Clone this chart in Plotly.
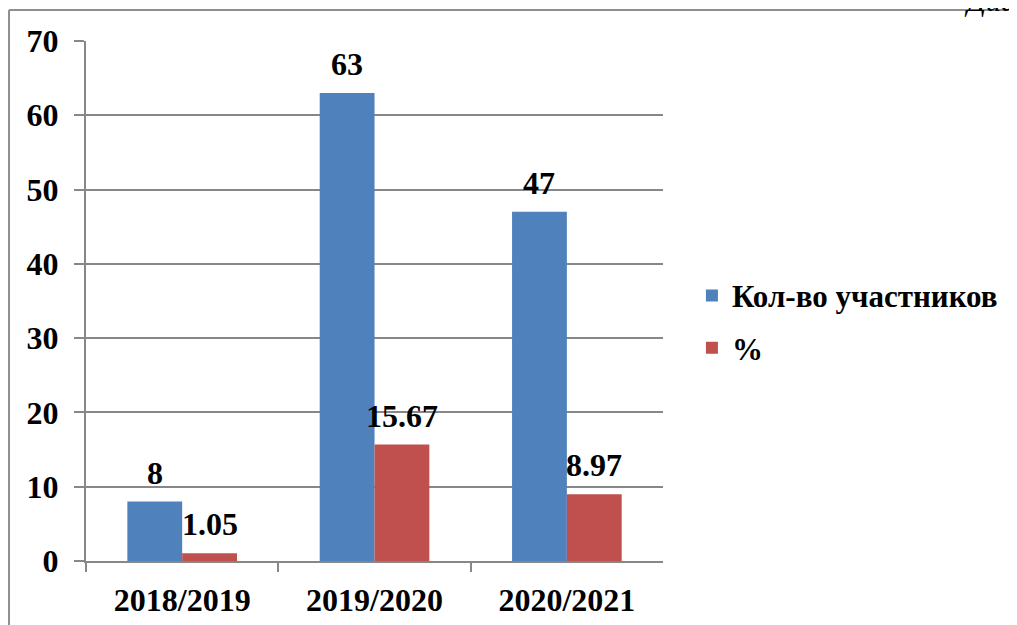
import plotly.graph_objects as go

# Data
years = ['2018/2019', '2019/2020', '2020/2021']
participants = [8, 63, 47]
percent = [1.05, 15.67, 8.97]
participants_text = ['8', '63', '47']
percent_text = ['1.05', '15.67', '8.97']

blue = '#4F81BD'
red = '#C0504D'
grid = '#878787'
frame = '#8f8f8f'
font_family = 'Liberation Serif, Times New Roman, serif'

fig = go.Figure()

fig.add_trace(go.Bar(
    x=years, y=participants, name='Кол-во участников',
    marker=dict(color=blue, line=dict(width=0)),
    legendgroup='a'
))
fig.add_trace(go.Bar(
    x=years, y=percent, name='%',
    marker=dict(color=red, line=dict(width=0)),
    legendgroup='b'
))

# data labels above bars
for vals, texts, shift in [(participants, participants_text, -27.5), (percent, percent_text, 27.5)]:
    for x, v, t in zip(years, vals, texts):
        fig.add_annotation(
            x=x, y=v, text='<b>' + t + '</b>', showarrow=False,
            xshift=shift, yshift=9, yanchor='bottom',
            font=dict(size=32, color='black', family=font_family)
        )

# margins are zero, so paper coords cover the whole figure; the frame stays inside [0, 1]
fig.add_shape(type='line', xref='paper', yref='paper',
              x0=0.001, x1=0.001, y0=0, y1=0.9968,
              line=dict(color=frame, width=2))
fig.add_shape(type='line', xref='paper', yref='paper',
              x0=0.001, x1=1, y0=0.9968, y1=0.9968,
              line=dict(color=frame, width=2))
fig.add_annotation(
    xref='paper', yref='paper', x=0.938, y=0.983, xanchor='left', yanchor='bottom',
    text='<i>Диаграмма</i>', showarrow=False,
    font=dict(size=30, color='black', family=font_family)
)

# the page body adds an 8px offset, so the plot domain is placed 8px up/left
fig.update_layout(
    width=1017, height=625,
    margin=dict(l=0, r=0, t=0, b=0, autoexpand=False),
    paper_bgcolor='white', plot_bgcolor='white',
    font=dict(family=font_family, size=32, color='black'),
    barmode='group', bargap=0.43, bargroupgap=0,
    showlegend=True,
    legend=dict(
        x=0.6725, y=0.498, xanchor='left', yanchor='middle',
        traceorder='grouped', tracegroupgap=9,
        font=dict(size=31, family=font_family, weight='bold'),
        bgcolor='rgba(0,0,0,0)'
    ),
    xaxis=dict(
        domain=[0.0767, 0.6441],
        showline=True, linecolor=grid, linewidth=2, automargin=False,
        ticks='outside', tickson='boundaries', ticklen=9, tickcolor=grid, tickwidth=2,
        showgrid=False, ticklabelstandoff=10,
        tickfont=dict(size=32, family=font_family, weight='bold')
    ),
    yaxis=dict(
        domain=[0.1152, 0.9472],
        range=[0, 70], dtick=10, automargin=False,
        showline=True, linecolor=grid, linewidth=2,
        ticks='outside', ticklen=10, tickcolor=grid, tickwidth=2,
        showgrid=True, gridcolor=grid, gridwidth=2,
        zeroline=False, ticklabelstandoff=9,
        tickfont=dict(size=32, family=font_family, weight='bold')
    )
)

fig.write_html('out.html')
